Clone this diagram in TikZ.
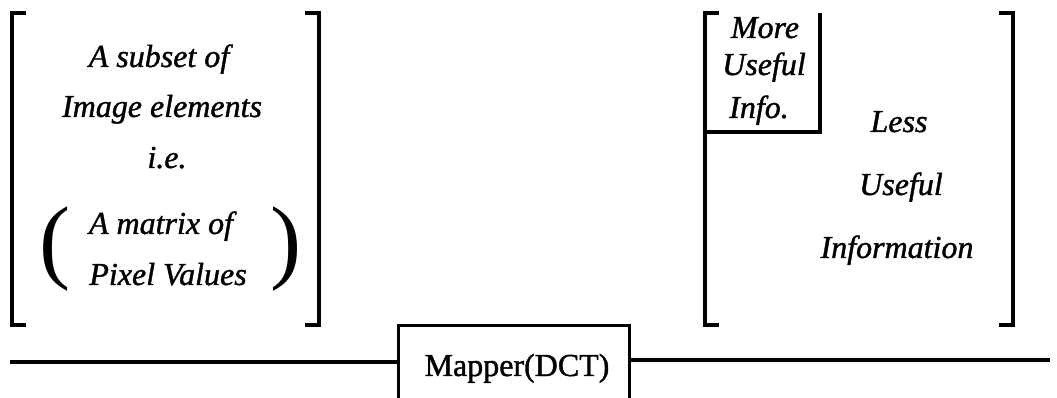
\documentclass[tikz,border=0pt]{standalone}
\usepackage{fontspec}
\setmainfont{Liberation Serif}
\newfontfamily\hvfont{Liberation Serif}[FakeBold=1.2, ItalicFeatures={FakeBold=1.2}]
\begin{document}
\begin{tikzpicture}[x=0.75pt,y=-0.75pt,
  lbl/.style={font=\fontsize{24}{28}\selectfont\hvfont\itshape, inner sep=0pt, anchor=base},
  brk/.style={line width=2.4pt, line cap=butt, line join=miter},
  par/.style={font=\fontsize{70}{70}\selectfont, inner sep=0pt},
  mapbox/.style={draw, line width=2.4pt, minimum width=231*0.75pt, minimum height=90*0.75pt, anchor=north west, inner sep=0pt},
  wire/.style={line width=2.4pt}]
\useasboundingbox (0,0) rectangle (1057,398);
% left bracket
\draw[brk] (26,13) -- (12,13) -- (12,325) -- (26,325);
\draw[brk] (305,13) -- (319,13) -- (319,325) -- (305,325);
\node[lbl] (t1) at (159,67) {A subset of};
\node[lbl] (t2) at (162,117) {Image elements};
\node[lbl] (t3) at (167,168) {i.e.};
\node[lbl] (t4) at (161,234) {A matrix of};
\node[lbl] (t5) at (168,285) {Pixel Values};
\node[par] (lp) at (55,249) {(};
\node[par] (rp) at (286,249) {)};
% right bracket
\draw[brk] (719,13) -- (705,13) -- (705,325) -- (719,325);
\draw[brk] (999,13) -- (1013,13) -- (1013,325) -- (999,325);
\draw[brk] (820,13) -- (820,132) -- (705,132);
\node[lbl] (m1) at (765,38) {More};
\node[lbl] (m2) at (764,75) {Useful};
\node[lbl] (m3) at (759,118) {Info.};
\node[lbl] (l1) at (899,132) {Less};
\node[lbl] (l2) at (901,195) {Useful};
\node[lbl] (l3) at (897,258) {Information};
% mapper
\node[mapbox] (map) at (397,324) {};
\node[font=\fontsize{24}{28}\selectfont\hvfont, inner sep=0pt, anchor=base] (maptxt) at (517,376) {Mapper(DCT)};
\coordinate (inL) at (10,362);
\coordinate (outR) at (1050,360);
\draw[wire] (inL) -- (inL -| map.west);
\draw[wire] (outR -| map.east) -- (outR);
\end{tikzpicture}
\end{document}
